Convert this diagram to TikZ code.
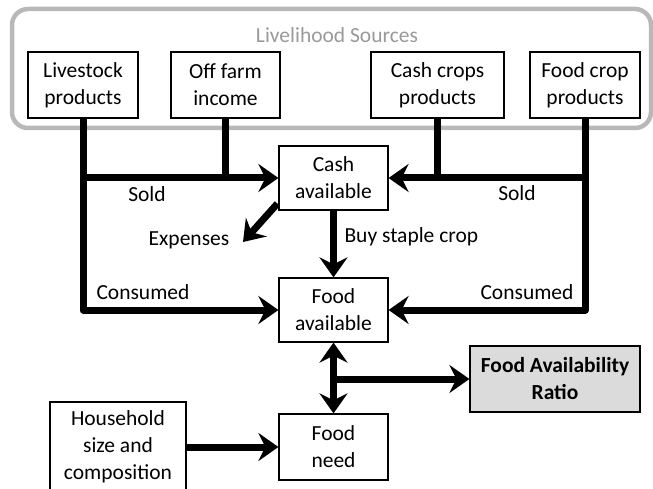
\documentclass[tikz,border=0pt]{standalone}
\usepackage{fontspec}
\setmainfont{Carlito}
\usetikzlibrary{arrows.meta}

\begin{document}
\begin{tikzpicture}[
      x=1pt, y=-1pt,
      font=\fontsize{21.5}{27}\selectfont,
      box/.style={draw, line width=1.2pt, align=center, inner sep=0pt},
      result/.style={box, fill=black!14, font=\fontsize{21.5}{27}\selectfont\bfseries},
      group/.style={draw=black!28, line width=4.5pt, rounded corners=16pt},
      flow/.style={line width=7pt, line join=round, -{Stealth[length=20pt,width=28pt,inset=7pt]}},
      feed/.style={line width=7pt, line join=round},
      twoway/.style={line width=7pt, {Stealth[length=20pt,width=28pt,inset=7pt]}-{Stealth[length=20pt,width=28pt,inset=7pt]}}
    ]
    \useasboundingbox (0,0) rectangle (653,489);
    \clip (0,0) rectangle (653,489);
    % Draw the sources group.
    \draw[group] (12,9) rectangle (651,128);
    \node[text=black!40] (sources) at (337,35) {Livelihood Sources};
    % Draw the boxes.
    \node[box, minimum width=110, minimum height=66] (livestock) at (83,85) {Livestock\\products};
    \node[box, minimum width=109, minimum height=66] (offfarm) at (225.5,85) {Off farm\\income};
    \node[box, minimum width=133, minimum height=66] (cashcrops) at (437.5,85) {Cash crops\\products};
    \node[box, minimum width=110, minimum height=66] (foodcrop) at (585,85) {Food crop\\products};
    \node[box, minimum width=109, minimum height=64] (cash) at (333.5,178) {Cash\\available};
    \node[box, minimum width=109, minimum height=64] (avail) at (333.5,310) {Food\\available};
    \node[box, minimum width=109, minimum height=66] (need) at (333.5,447) {Food\\need};
    \node[box, minimum width=136, minimum height=90] (household) at (118,447) {Household\\size and\\composition};
    \node[result, minimum width=170, minimum height=66] (ratio) at (555,379) {Food Availability\\Ratio};
    % Draw the flows.
    \draw[flow] (livestock.south) -- (livestock.south |- avail.west) -- (avail.west);
    \draw[flow] (livestock.south |- cash.west) -- (cash.west);
    \draw[feed] (offfarm.south) -- (offfarm.south |- cash.west);
    \draw[flow] (foodcrop.south) -- (foodcrop.south |- avail.east) -- (avail.east);
    \draw[flow] (foodcrop.south |- cash.east) -- (cash.east);
    \draw[feed] (cashcrops.south) -- (cashcrops.south |- cash.east);
    \coordinate (exptip) at (243,242);
    \draw[flow] ([xshift=-1pt,yshift=7pt]cash.south west) -- (exptip);
    \draw[flow] (cash.south) -- (avail.north);
    \draw[twoway] (avail.south) -- (need.north);
    \coordinate (split) at (333.5,379);
    \draw[flow] (split) -- (ratio.west);
    \draw[flow] (household.east) -- (need.west);
    % Draw the labels.
    \node (soldl) at (147,194) {Sold};
    \node (soldr) at (517,193) {Sold};
    \node (consl) at (143,292) {Consumed};
    \node (consr) at (527,292) {Consumed};
    \node (expenses) at (189,240) {Expenses};
    \node[anchor=west] (buy) at (341,237) {Buy staple crop};
\end{tikzpicture}
\end{document}
